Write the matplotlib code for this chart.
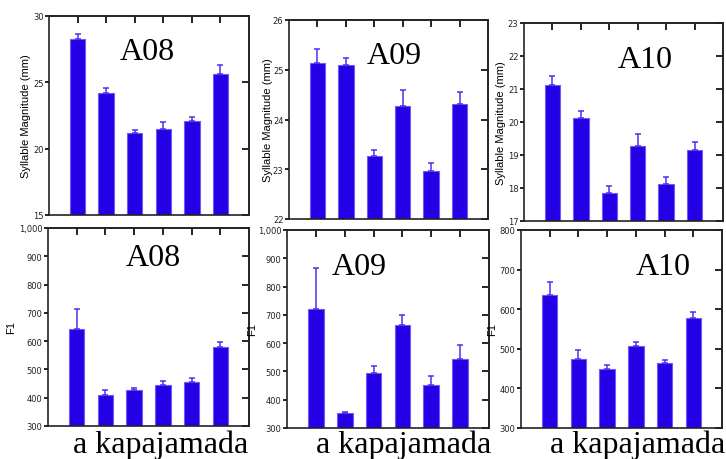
import matplotlib
matplotlib.use("Agg")
import matplotlib.pyplot as plt
from matplotlib.ticker import FuncFormatter, NullFormatter

# six groups per panel, error bars upward only
mag_a08 = [28.3, 24.2, 21.15, 21.47, 22.05, 25.6]
mag_a08_err = [0.32, 0.4, 0.25, 0.55, 0.3, 0.69]
mag_a09 = [25.14, 25.10, 23.27, 24.28, 22.96, 24.32]
mag_a09_err = [0.28, 0.13, 0.12, 0.32, 0.16, 0.24]
mag_a10 = [21.13, 20.12, 17.86, 19.27, 18.11, 19.14]
mag_a10_err = [0.26, 0.2, 0.21, 0.38, 0.21, 0.26]

f1_a08 = [644, 408, 427, 446, 454, 581]
f1_a08_err = [68, 18, 8, 14, 14, 17]
f1_a09 = [719, 353, 495, 664, 451, 544]
f1_a09_err = [148, 5, 23, 37, 34, 50]
f1_a10 = [636, 475, 450, 508, 464, 579]
f1_a10_err = [33, 23, 9, 10, 7, 15]

speakers = ["A08", "A09", "A10"]
caption = "a kapajamada"

BLUE = "#2400e6"
W, H = 726, 460

fig = plt.figure(figsize=(W / 100, H / 100), dpi=100)

def px_axes(l, t, r, b):
    return fig.add_axes([l / W, 1 - b / H, (r - l) / W, (b - t) / H])

def panel(box, vals, errs, ylim, yticks, ylabel, ylab_x):
    ax = px_axes(*box)
    x = list(range(1, len(vals) + 1))
    ax.bar(x, vals, width=0.54, color=BLUE, edgecolor="#6f5cf2", linewidth=0.8, zorder=2)
    ax.errorbar(x, vals, yerr=[[0] * len(errs), errs], fmt="none", ecolor="#4a30ee",
                elinewidth=1.1, capsize=2, capthick=1.1, zorder=3)
    ax.set_xlim(0, 7)
    ax.set_ylim(*ylim)
    ax.set_yticks(yticks)
    ax.yaxis.set_major_formatter(FuncFormatter(lambda v, p: f"{int(v):,}"))
    ax.yaxis.set_ticks_position("left")
    ax.yaxis.set_tick_params(direction="out", length=3, width=1.2, labelsize=6,
                             labelcolor="#222222", pad=1)
    for sp in ax.spines.values():
        sp.set_linewidth(1.2)
        sp.set_color("#222222")
    # inward ticks on the right spine
    sec = ax.secondary_yaxis("right")
    sec.set_yticks(yticks)
    sec.yaxis.set_major_formatter(NullFormatter())
    sec.tick_params(axis="y", direction="in", length=5, width=1.2)
    sec.spines["right"].set_linewidth(1.2)
    sec.spines["right"].set_color("#222222")
    # inward ticks on the top spine at the bar positions
    top = ax.secondary_xaxis("top")
    top.set_xticks(x)
    top.xaxis.set_major_formatter(NullFormatter())
    top.tick_params(axis="x", direction="in", length=5, width=1.2)
    top.spines["top"].set_linewidth(1.2)
    top.spines["top"].set_color("#222222")
    ax.tick_params(axis="x", bottom=False, labelbottom=False)
    ax.set_ylabel(ylabel, fontsize=8, family="Liberation Sans")
    ax.yaxis.set_label_coords((ylab_x - box[0]) / (box[2] - box[0]), 0.5)
    return ax

top_boxes = [(49, 17, 249, 216), (289, 21, 488, 220), (524, 24, 723, 222)]
bot_boxes = [(48, 229, 249, 427), (287, 231, 489, 429), (521, 231, 722, 429)]

panel(top_boxes[0], mag_a08, mag_a08_err, (15, 30), [15, 20, 25, 30], "Syllable Magnitude (mm)", 31)
panel(top_boxes[1], mag_a09, mag_a09_err, (22, 26), [22, 23, 24, 25, 26], "Syllable Magnitude (mm)", 273)
panel(top_boxes[2], mag_a10, mag_a10_err, (17, 23), [17, 18, 19, 20, 21, 22, 23], "Syllable Magnitude (mm)", 506)
panel(bot_boxes[0], f1_a08, f1_a08_err, (300, 1000), list(range(300, 1001, 100)), "F1", 16)
panel(bot_boxes[1], f1_a09, f1_a09_err, (300, 1000), list(range(300, 1001, 100)), "F1", 257)
panel(bot_boxes[2], f1_a10, f1_a10_err, (300, 800), list(range(300, 801, 100)), "F1", 497)

serif = "Liberation Serif"
top_lab = [(147, 52), (394, 57), (645, 60)]
bot_lab = [(153, 258), (359, 268), (663, 268)]
for name, (x, y) in zip(speakers, top_lab):
    fig.text(x / W, 1 - y / H, name, ha="center", va="center", fontsize=23, family=serif)
for name, (x, y) in zip(speakers, bot_lab):
    fig.text(x / W, 1 - y / H, name, ha="center", va="center", fontsize=23, family=serif)
for x in [73, 316, 550]:
    fig.text(x / W, 1 - 453 / H, caption, ha="left", va="baseline", fontsize=23, family=serif)

fig.savefig("out.png", dpi=100)
